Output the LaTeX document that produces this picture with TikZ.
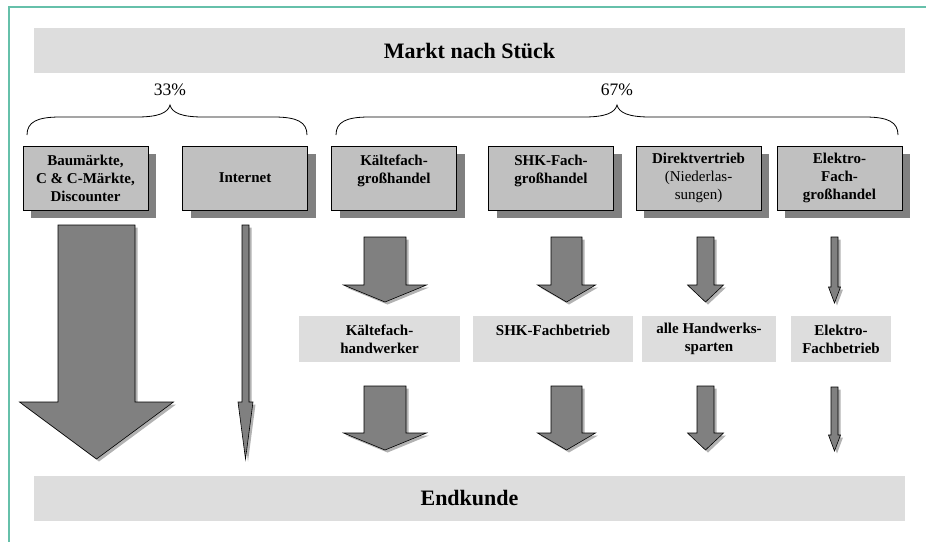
\documentclass[tikz,border=0pt]{standalone}
\usepackage{fontspec}
\setmainfont{Liberation Serif}
\usepackage{xcolor}
\usetikzlibrary{shadows}

\definecolor{framegreen}{RGB}{102,192,170}
\definecolor{barfill}{RGB}{221,221,221}
\definecolor{boxfill}{RGB}{192,192,192}
\definecolor{shade}{RGB}{128,128,128}

% block arrow: x, top, shoulder, tip, half shaft, half head
\newcommand{\blockarr}[6]{%
  \filldraw[blk] (#1-#5,#2) -- (#1+#5,#2) -- (#1+#5,#3) -- (#1+#6,#3) -- (#1,#4)
    -- (#1-#6,#3) -- (#1-#5,#3) -- cycle;}

% curly brace: left end, tip, right end
\newcommand{\sharebrace}[3]{%
  \draw[brace] (#1,135) .. controls (#1,122) and (#1+10,117) .. (#1+33,117)
    -- (#2-33,117) .. controls (#2-12,117) and (#2-2,113) .. (#2,105)
    .. controls (#2+2,113) and (#2+12,117) .. (#2+33,117)
    -- (#3-33,117) .. controls (#3-10,117) and (#3,122) .. (#3,135);}

\begin{document}
\begin{tikzpicture}[x=1pt, y=-1pt,
  bar/.style={fill=barfill, minimum width=871pt, minimum height=45pt, inner sep=0pt,
    font=\fontsize{22}{26}\selectfont\bfseries},
  chan/.style={draw=black, line width=0.8pt, fill=boxfill, minimum width=125pt,
    minimum height=64pt, inner sep=0pt, align=center,
    font=\fontsize{15}{18}\selectfont\bfseries,
    drop shadow={shadow xshift=8pt, shadow yshift=-8pt, fill=shade, opacity=1}},
  trade/.style={fill=barfill, minimum height=46pt, inner sep=0pt, align=center,
    font=\fontsize{15}{18}\selectfont\bfseries},
  share/.style={font=\fontsize{17.5}{20}\selectfont},
  blk/.style={draw=black, line width=0.6pt, fill=shade,
    drop shadow={shadow xshift=2.5pt, shadow yshift=-2.5pt, fill=black!30, opacity=1}},
  brace/.style={line width=0.8pt}]
  \useasboundingbox (0,0) rectangle (926,542);

  % Frame lines top and left
  \draw[framegreen, line width=2pt] (926,6.5) -- (9,6.5) -- (9,542);

  % Market and end customer bars
  \node[bar] (markt) at (469.5,50.5) {Markt nach Stück};
  \node[bar] (endkunde) at (469.5,498) {Endkunde};

  % Shares
  \sharebrace{27}{170}{307}
  \sharebrace{336}{617}{898}
  \node[share] (anteil33) at (170,90) {33\%};
  \node[share] (anteil67) at (617,90) {67\%};

  % Sales channels
  \node[chan] (baumarkt) at (85.5,178) {Baumärkte,\\C \& C-Märkte,\\Discounter};
  \node[chan] (internet) at (245,178) {Internet};
  \node[chan] (kaeltegh) at (394,178) {Kältefach-\\großhandel\\\mbox{}};
  \node[chan] (shkgh) at (551,178) {SHK-Fach-\\großhandel\\\mbox{}};
  \node[chan] (direkt) at (698.5,178) {Direktvertrieb\\\mdseries(Niederlas-\\\mdseries sungen)};
  \node[chan] (elektrogh) at (839.5,178) {Elektro-\\Fach-\\großhandel};

  % Trades
  \node[trade, minimum width=161pt] (kaeltehw) at (379.5,339) {Kältefach-\\handwerker};
  \node[trade, minimum width=160pt] (shkbetrieb) at (553,339) {SHK-Fachbetrieb\\\mbox{}};
  \node[trade, minimum width=134pt] (handwerk) at (709,339) {alle Handwerks-\\sparten};
  \node[trade, minimum width=100pt] (elektrobetrieb) at (841,339) {Elektro-\\Fachbetrieb};

  % Direct flows
  \blockarr{96.5}{225}{402}{459}{38.5}{77}
  \blockarr{245.5}{225}{402}{459}{3.5}{7.5}

  % Flows via trades
  \blockarr{385}{237}{285}{302}{21}{41.5}
  \blockarr{566.5}{237}{285}{302}{15.5}{29}
  \blockarr{705.5}{237}{285}{302}{8.5}{18}
  \blockarr{834.5}{237}{287}{303}{3.5}{6}
  \blockarr{385}{386}{433}{450}{21}{41.5}
  \blockarr{566.5}{386}{433}{450}{15.5}{29}
  \blockarr{705.5}{386}{433}{450}{8.5}{18}
  \blockarr{834.5}{387}{435}{451}{3.5}{6}
\end{tikzpicture}
\end{document}
